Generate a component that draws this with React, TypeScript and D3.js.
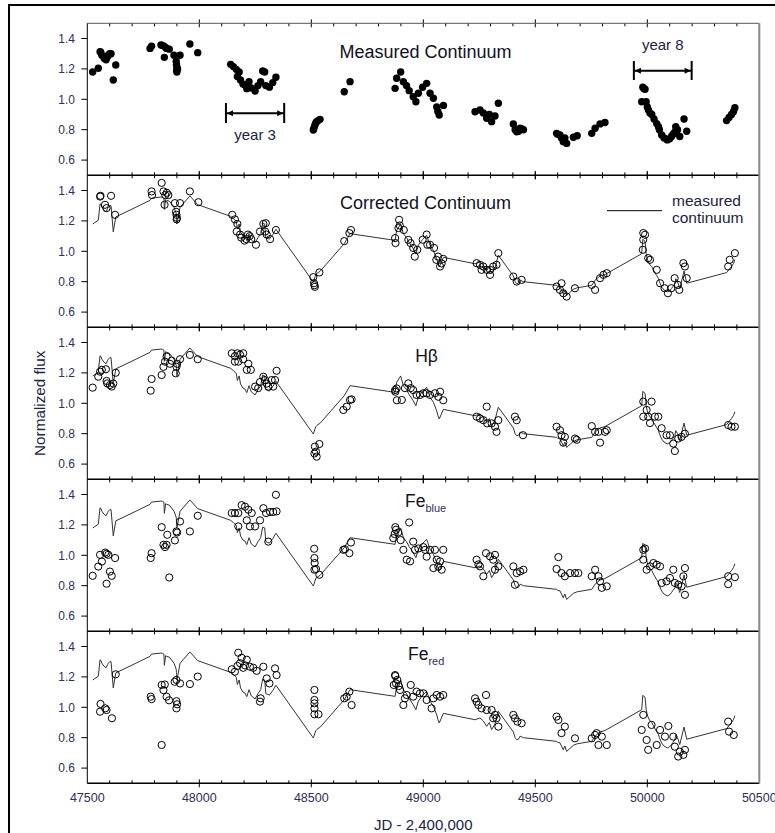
import React from "react";
import * as d3 from "d3";

type P = [number, number];

// ---- data (JD - 2,400,000, normalized flux) ----
const measured: P[] = [
  [47524,1.18],[47549,1.204],[47557,1.313],[47560,1.31],[47565,1.29],[47575,1.27],[47584,1.26],[47590,1.28],[47594,1.29],[47600,1.3],[47606,1.30],[47616,1.127],[47627,1.226],
  [47780,1.335],[47787,1.35],[47829,1.357],[47835,1.355],[47842,1.35],[47844,1.276],[47850,1.34],[47854,1.335],[47866,1.33],[47887,1.29],[47897,1.25],[47898,1.23],[47899,1.215],[47899,1.19],[47900,1.18],[47903,1.2],[47914,1.29],[47958,1.364],[47993,1.307],
  [48140,1.23],[48152,1.215],[48165,1.197],[48170,1.15],[48178,1.18],[48184,1.127],[48195,1.1],[48204,1.094],[48212,1.07],[48222,1.116],[48232,1.075],[48249,1.055],[48262,1.09],[48274,1.116],[48283,1.186],[48292,1.18],[48297,1.09],[48313,1.08],[48328,1.11],[48342,1.145],
  [48509,0.798],[48512,0.81],[48516,0.83],[48520,0.845],[48524,0.853],[48530,0.86],[48539,0.868],[48647,1.05],[48673,1.116],
  [48874,1.072],[48881,1.138],[48899,1.18],[48911,1.116],[48925,1.09],[48937,1.057],[48955,1.017],[48967,0.984],[48978,1.04],[48997,1.079],[49015,1.105],[49030,1.04],[49045,1.007],[49060,0.95],[49065,0.92],[49071,0.897],[49090,0.96],
  [49231,0.918],[49253,0.93],[49268,0.91],[49283,0.875],[49295,0.9],[49305,0.853],[49320,0.89],[49335,0.974],
  [49402,0.838],[49410,0.8],[49417,0.787],[49425,0.79],[49432,0.81],[49440,0.805],[49447,0.8],
  [49595,0.776],[49600,0.77],[49610,0.766],[49617,0.745],[49625,0.72],[49632,0.745],[49640,0.71],[49670,0.75],[49687,0.76],
  [49752,0.776],[49767,0.81],[49789,0.838],[49811,0.847],
  [49975,0.984],[49980,1.079],[49985,1.07],[49990,1.066],[49995,0.984],[50000,0.95],[50005,0.93],[50012,0.91],[50020,0.9],[50030,0.87],[50042,0.84],[50050,0.82],[50054,0.80],[50064,0.765],[50075,0.745],[50089,0.733],[50100,0.74],[50108,0.755],[50115,0.77],[50123,0.786],[50127,0.82],[50135,0.8],[50145,0.755],[50164,0.87],[50176,0.79],
  [50354,0.86],[50365,0.88],[50376,0.90],[50385,0.92],[50391,0.945],
];

const corrected: P[] = [
  [47557,1.36],[47559,1.365],[47579,1.306],[47586,1.284],[47606,1.365],[47624,1.24],
  [47787,1.394],[47789,1.37],[47832,1.45],[47840,1.394],[47848,1.37],[47855,1.385],[47862,1.37],[47845,1.306],[47891,1.317],[47896,1.26],[47898,1.24],[47900,1.22],[47899,1.21],[47914,1.317],[47958,1.394],[47996,1.323],
  [48147,1.24],[48159,1.21],[48170,1.18],[48167,1.13],[48182,1.11],[48187,1.09],[48202,1.07],[48210,1.08],[48217,1.11],[48225,1.10],[48232,1.08],[48253,1.043],[48271,1.13],[48286,1.18],[48297,1.185],[48294,1.13],[48301,1.11],[48316,1.08],[48342,1.14],
  [48512,0.79],[48514,0.777],[48516,0.766],[48509,0.83],[48536,0.861],[48647,1.067],[48670,1.12],[48677,1.14],
  [48874,1.087],[48876,1.054],[48889,1.153],[48892,1.207],[48895,1.17],[48913,1.14],[48933,1.075],[48943,1.054],[48955,1.022],[48962,0.965],[48973,1.01],[48997,1.076],[49015,1.11],[49018,1.043],[49030,1.043],[49048,1.022],[49058,0.944],[49066,0.965],[49075,0.90],[49082,0.92],[49089,0.95],
  [49238,0.922],[49253,0.911],[49260,0.878],[49268,0.90],[49283,0.878],[49298,0.878],[49298,0.845],[49312,0.90],[49327,0.911],[49335,0.988],
  [49402,0.834],[49417,0.801],[49439,0.812],
  [49595,0.768],[49610,0.746],[49617,0.79],[49625,0.724],[49640,0.702],[49677,0.757],
  [49752,0.779],[49767,0.746],[49789,0.823],[49804,0.845],[49819,0.856],
  [49982,1.12],[49990,1.109],[49980,1.01],[49982,1.076],[50004,0.955],[50012,0.944],[50042,0.878],[50057,0.79],[50077,0.757],[50092,0.724],[50107,0.757],[50122,0.823],[50137,0.779],[50143,0.746],[50161,0.922],[50168,0.90],[50176,0.823],
  [50361,0.9],[50368,0.944],[50391,0.988],
];

const hbeta: P[] = [
  [47524,1.103],[47549,1.175],[47557,1.208],[47565,1.22],[47583,1.224],[47586,1.147],[47589,1.131],[47601,1.12],[47609,1.11],[47616,1.13],[47627,1.201],
  [47783,1.083],[47787,1.16],[47832,1.186],[47840,1.24],[47847,1.274],[47854,1.307],[47869,1.26],[47877,1.28],[47895,1.197],[47898,1.24],[47901,1.26],[47914,1.29],[47958,1.318],[47993,1.29],
  [48145,1.329],[48159,1.31],[48170,1.329],[48182,1.32],[48196,1.329],[48159,1.274],[48174,1.274],[48196,1.29],[48219,1.26],[48212,1.22],[48230,1.22],[48249,1.11],[48263,1.10],[48271,1.14],[48286,1.175],[48293,1.153],[48301,1.13],[48308,1.11],[48323,1.153],[48330,1.11],[48345,1.214],[48338,1.153],
  [48516,0.715],[48521,0.682],[48524,0.649],[48514,0.67],[48536,0.732],
  [48643,0.956],[48658,0.978],[48673,1.022],[48680,1.026],[48875,1.076],[48882,1.02],
  [48874,1.087],[48881,1.098],[48904,1.022],[48918,1.10],[48933,1.131],[48944,1.1],[48955,1.087],[48970,1.055],[48985,1.055],[49000,1.066],[49015,1.066],[49030,1.055],[49052,1.066],[49067,1.043],[49075,1.076],[49089,1.02],
  [49238,0.912],[49253,0.90],[49268,0.889],[49283,0.978],[49285,0.868],[49305,0.868],[49320,0.846],[49327,0.812],[49335,0.889],
  [49409,0.912],[49417,0.889],[49445,0.79],
  [49595,0.846],[49610,0.823],[49617,0.79],[49632,0.779],[49625,0.741],[49677,0.768],[49685,0.76],
  [49752,0.85],[49767,0.812],[49782,0.812],[49789,0.741],[49811,0.812],[49819,0.823],
  [49982,1.011],[49997,0.956],[50019,1.011],[49982,0.912],[50004,0.912],[50012,0.87],[50034,0.912],[50049,0.912],[50064,0.836],[50086,0.79],[50101,0.79],[50116,0.735],[50123,0.686],[50138,0.768],[50153,0.779],[50168,0.80],
  [50361,0.857],[50376,0.846],[50391,0.846],
];

const feBlue: P[] = [
  [47524,0.865],[47549,0.926],[47557,1.003],[47565,0.959],[47580,1.018],[47586,1.01],[47594,1.003],[47586,0.813],[47601,0.893],[47609,0.865],[47624,0.982],
  [47783,0.982],[47787,1.014],[47832,1.185],[47840,1.069],[47847,1.054],[47854,1.069],[47857,1.135],[47866,0.854],[47891,1.098],[47898,1.157],[47901,1.15],[47914,1.222],[47958,1.157],[47993,1.26],
  [48145,1.278],[48159,1.278],[48174,1.278],[48189,1.33],[48204,1.32],[48219,1.30],[48234,1.278],[48174,1.19],[48212,1.23],[48226,1.19],[48249,1.19],[48271,1.23],[48286,1.31],[48298,1.278],[48308,1.09],[48316,1.285],[48330,1.285],[48342,1.398],[48345,1.289],
  [48513,1.043],[48514,0.982],[48515,0.949],[48514,0.905],[48521,0.91],[48536,0.872],
  [48643,1.036],[48650,1.04],[48670,1.014],[48677,1.084],[48875,1.185],[48872,1.14],
  [48866,1.113],[48878,1.168],[48888,1.15],[48899,1.1],[48911,1.036],[48926,0.971],[48941,0.96],[48937,1.216],[48955,1.09],[48963,1.036],[48978,1.045],[49000,1.054],[49008,1.036],[49015,0.991],[49030,1.036],[49045,0.916],[49052,1.036],[49060,0.971],[49067,0.925],[49075,0.96],[49082,0.905],[49089,1.036],
  [49238,0.971],[49246,0.94],[49253,0.927],[49268,0.862],[49280,1.014],[49298,0.993],[49312,0.971],[49320,1.003],[49335,0.927],[49320,0.905],
  [49402,0.927],[49417,0.883],[49432,0.894],[49447,0.905],[49409,0.806],
  [49603,0.988],[49595,0.91],[49617,0.883],[49632,0.862],[49655,0.883],[49677,0.883],[49692,0.883],
  [49752,0.862],[49767,0.905],[49782,0.862],[49789,0.829],[49797,0.786],[49819,0.796],
  [49982,1.036],[49990,1.045],[49982,0.971],[49997,0.905],[50012,0.927],[50027,0.949],[50042,0.938],[50057,0.927],[50064,0.818],[50086,0.829],[50101,0.851],[50116,0.905],[50123,0.818],[50138,0.807],[50153,0.796],[50161,0.862],[50168,0.916],[50168,0.74],
  [50361,0.862],[50361,0.81],[50391,0.856],
];

const feRed: P[] = [
  [47557,0.971],[47559,1.022],[47580,0.993],[47586,0.982],[47610,0.928],[47627,1.217],
  [47783,1.07],[47787,1.054],[47832,0.752],[47832,1.147],[47846,1.15],[47840,1.113],[47854,1.07],[47865,1.046],[47890,1.168],[47898,1.18],[47898,1.04],[47898,0.993],[47901,1.02],[47914,1.157],[47958,1.153],[47993,1.202],
  [48145,1.25],[48159,1.234],[48174,1.359],[48182,1.29],[48189,1.326],[48204,1.276],[48212,1.313],[48226,1.267],[48241,1.26],[48256,1.24],[48170,1.272],[48196,1.26],
  [48271,1.037],[48274,1.059],[48286,1.267],[48301,1.19],[48313,1.157],[48338,1.256],[48345,1.212],
  [48514,1.114],[48514,1.048],[48514,1.026],[48514,0.993],[48514,0.954],[48532,0.954],
  [48647,1.059],[48658,1.07],[48670,1.103],[48680,1.015],
  [48875,1.206],[48868,1.147],[48890,1.14],
  [48874,1.212],[48878,1.157],[48884,1.18],[48896,1.114],[48911,1.015],[48918,1.059],[48926,1.081],[48944,1.147],[48955,1.07],[48970,1.103],[48985,1.092],[49000,1.092],[49015,1.048],[49037,0.993],[49045,1.059],[49060,1.081],[49075,1.07],[49089,1.081],
  [49231,1.059],[49238,1.037],[49246,1.015],[49260,0.993],[49280,1.081],[49283,0.982],[49305,0.982],[49312,0.928],[49320,0.95],[49335,0.873],[49327,0.928],
  [49402,0.95],[49409,0.928],[49420,0.906],[49439,0.895],
  [49595,0.939],[49603,0.917],[49632,0.873],[49617,0.83],[49677,0.796],
  [49752,0.796],[49767,0.818],[49782,0.752],[49797,0.807],[49819,0.752],[49774,0.83],
  [49982,0.95],[49975,0.851],[49997,0.785],[50004,0.72],[50019,0.884],[50042,0.752],[50057,0.851],[50079,0.807],[50094,0.877],[50116,0.807],[50123,0.741],[50138,0.676],[50145,0.708],[50161,0.687],[50168,0.72],
  [50361,0.906],[50365,0.84],[50386,0.818],
];

const xTicks = [47500, 48000, 48500, 49000, 49500, 50000, 50500];
const yTicks = [0.6, 0.8, 1.0, 1.2, 1.4];
const xDomain: [number, number] = [47500, 50500];
const yDomain: [number, number] = [0.5, 1.5];

// year annotations (data coords)
const year3 = { label: "year 3", t0: 48119, t1: 48379, v: 0.908, cap: [0.976, 0.844], textV: 0.765 };
const year8 = { label: "year 8", t0: 49940, t1: 50198, v: 1.188, cap: [1.252, 1.127], textV: 1.357 };

// ---- layout ----
const W = 775, H = 833;
const LEFT = 87.3, RIGHT = 759.3, TOP = 23.3, PH = 152;
const FONT = "'Liberation Sans', Arial, sans-serif";
const TICK_COLOR = "#2e2e58";

const x = d3.scaleLinear().domain(xDomain).range([LEFT, RIGHT]);
const yFor = (i: number) =>
  d3.scaleLinear().domain(yDomain).range([TOP + (i + 1) * PH, TOP + i * PH]);

const minorTicks = d3.range(47500, 50501, 100);

function YearBar({ a, y }: { a: typeof year3; y: d3.ScaleLinear<number, number> }) {
  const x0 = x(a.t0), x1 = x(a.t1), yy = y(a.v);
  const c0 = y(a.cap[0]), c1 = y(a.cap[1]);
  const ah = 6, aw = 3;
  return (
    <g>
      <line x1={x0} x2={x1} y1={yy} y2={yy} stroke="#000" strokeWidth={2} />
      <line x1={x0} x2={x0} y1={c0} y2={c1} stroke="#000" strokeWidth={2} />
      <line x1={x1} x2={x1} y1={c0} y2={c1} stroke="#000" strokeWidth={2} />
      <polygon points={`${x0 + 1},${yy} ${x0 + 1 + ah},${yy - aw} ${x0 + 1 + ah},${yy + aw}`} fill="#000" />
      <polygon points={`${x1 - 1},${yy} ${x1 - 1 - ah},${yy - aw} ${x1 - 1 - ah},${yy + aw}`} fill="#000" />
      <text x={(x0 + x1) / 2} y={y(a.textV)} dy="0.35em" textAnchor="middle" fontSize={15} fill="#222244" fontFamily={FONT}>
        {a.label}
      </text>
    </g>
  );
}

export default function App() {
  const line = (y: d3.ScaleLinear<number, number>) =>
    d3.line<P>().x((d) => x(d[0])).y((d) => y(d[1]))(measured) || "";

  const circlePanels: { data: P[] }[] = [
    { data: corrected },
    { data: hbeta },
    { data: feBlue },
    { data: feRed },
  ];
  const titleX = x(49010);

  return (
    <svg width={W} height={H} style={{ position: "absolute", left: 0, top: 0, background: "#fff" }}>
      <rect x={0} y={0} width={W} height={H} fill="#fff" />
      {/* outer frame */}
      <line x1={9} x2={W} y1={5} y2={5} stroke="#000" strokeWidth={2} />
      <line x1={9} x2={9} y1={4} y2={H} stroke="#000" strokeWidth={2} />

      {/* panel 1: measured dots */}
      {(() => {
        const y = yFor(0);
        return (
          <g>
            {measured.map((d, i) => (
              <circle key={i} cx={x(d[0])} cy={y(d[1])} r={3.7} fill="#000" />
            ))}
            <text x={titleX} y={TOP + 34.9} textAnchor="middle" fontSize={18} fill="#111122" fontFamily={FONT}>
              Measured Continuum
            </text>
            <YearBar a={year3} y={y} />
            <YearBar a={year8} y={y} />
          </g>
        );
      })()}

      {/* panels 2-5 */}
      {circlePanels.map((p, k) => {
        const i = k + 1;
        const y = yFor(i);
        return (
          <g key={i}>
            <path d={line(y)} fill="none" stroke="#333" strokeWidth={1} />
            {p.data.map((d, j) => (
              <circle key={j} cx={x(d[0])} cy={y(d[1])} r={3.6} fill="none" stroke="#000" strokeWidth={1} />
            ))}
          </g>
        );
      })}

      {/* panel titles */}
      <text x={titleX} y={TOP + PH + 33.7} textAnchor="middle" fontSize={18} fill="#111122" fontFamily={FONT}>
        Corrected Continuum
      </text>
      <text x={426.5} y={TOP + 2 * PH + 34.4} textAnchor="middle" fontSize={17.5} fill="#111122" fontFamily={FONT}>
        Hβ
      </text>
      <text x={405} y={TOP + 3 * PH + 28} fontSize={17.5} fill="#111122" fontFamily={FONT}>
        Fe<tspan fontSize={11} dy={5} fill="#2e2e58">blue</tspan>
      </text>
      <text x={408} y={TOP + 4 * PH + 28.7} fontSize={17.5} fill="#111122" fontFamily={FONT}>
        Fe<tspan fontSize={11} dy={5} fill="#2e2e58">red</tspan>
      </text>

      {/* legend in panel 2 */}
      <line x1={607} x2={662} y1={210.7} y2={210.7} stroke="#000" strokeWidth={1} />
      <text x={672} y={200.7} dy="0.35em" fontSize={15.5} fill="#222244" fontFamily={FONT}>measured</text>
      <text x={672} y={218} dy="0.35em" fontSize={15.5} fill="#222244" fontFamily={FONT}>continuum</text>

      {/* axes & borders */}
      {[0, 1, 2, 3, 4].map((i) => {
        const y = yFor(i);
        const top = TOP + i * PH, bot = TOP + (i + 1) * PH;
        return (
          <g key={"ax" + i}>
            {yTicks.map((v) => (
              <g key={v}>
                <line x1={LEFT - 6} x2={LEFT} y1={y(v)} y2={y(v)} stroke="#000" strokeWidth={1} />
                <text x={75} y={y(v)} dy="0.35em" textAnchor="end" fontSize={12} fill={TICK_COLOR} fontFamily={FONT}>
                  {d3.format(".1f")(v)}
                </text>
              </g>
            ))}
            {minorTicks.map((t) => {
              const major = t % 500 === 0;
              if (t === 47500 || t === 50500) return null;
              return (
                <g key={t}>
                  <line x1={x(t)} x2={x(t)} y1={major ? top - 4 : top} y2={top + (major ? 4 : 3)} stroke="#000" strokeWidth={1} />
                  <line x1={x(t)} x2={x(t)} y1={bot - (major ? 4 : 3)} y2={major ? bot + 4 : bot} stroke="#000" strokeWidth={1} />
                </g>
              );
            })}
          </g>
        );
      })}
      {/* panel top (first) */}
      <line x1={LEFT} x2={RIGHT} y1={TOP} y2={TOP} stroke="#555" strokeWidth={1} />
      {[1, 2, 3, 4, 5].map((i) => (
        <line key={"b" + i} x1={LEFT} x2={RIGHT} y1={TOP + i * PH} y2={TOP + i * PH} stroke="#000" strokeWidth={1.4} />
      ))}
      <line x1={LEFT} x2={LEFT} y1={TOP} y2={TOP + 5 * PH} stroke="#000" strokeWidth={1} />
      <line x1={RIGHT} x2={RIGHT} y1={TOP} y2={TOP + 5 * PH} stroke="#888" strokeWidth={2} />

      {/* x tick labels */}
      {xTicks.map((t) => (
        <text key={t} x={x(t)} y={801.5} textAnchor="middle" fontSize={12.5} fill={TICK_COLOR} fontFamily={FONT}>
          {t}
        </text>
      ))}
      <text x={(LEFT + RIGHT) / 2} y={829.5} textAnchor="middle" fontSize={15} fill="#222244" fontFamily={FONT}>
        JD - 2,400,000
      </text>
      <text transform={`translate(40,${TOP + 2.5 * PH}) rotate(-90)`} dy="0.35em" textAnchor="middle" fontSize={15.3} fill="#222244" fontFamily={FONT}>
        Normalized flux
      </text>
    </svg>
  );
}
